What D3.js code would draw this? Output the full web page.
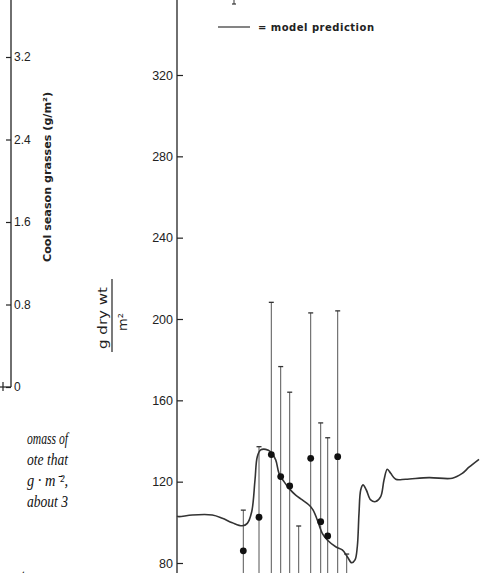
<!DOCTYPE html>
<html>
<head>
<meta charset="utf-8">
<script src="https://cdn.jsdelivr.net/npm/d3@7"></script>
<style>
  body { margin: 0; background: #fff; }
  svg { display: block; }
</style>
</head>
<body>
<div id="chart"></div>
<script>
// model curve (time in arbitrary day units, biomass g dry wt / m2)
var curveT = [0, 2, 15.3, 35.3, 45.3, 55.3, 65.3, 70.3, 74.7, 78, 80.3, 83.7, 88.7, 93.7, 98.7, 102, 107, 112,
              118.7, 125.3, 133.7, 137, 140.3, 145.3, 150.3, 158.7, 165.3, 170.3, 174.7, 178, 180.3, 182, 183.7,
              186, 189.3, 193.7, 198.7, 203.7, 207, 210.3, 213.7, 218.7, 228.7, 252, 275.3, 285.3, 292, 302];
var curveV = [103, 102.8, 103.6, 103.6, 102.0, 99.8, 98.3, 99.5, 105.2, 120.8, 132.3, 135.6, 135.9, 134.7, 130.7,
              124.1, 120.0, 116.7, 113.4, 111.0, 107.7, 105.2, 101.2, 94.6, 91.3, 88.0, 86.4, 83.1, 80.1, 81.5,
              88.0, 104.4, 115.9, 118.4, 115.9, 111.0, 110.2, 112.6, 120.8, 126.1, 124.1, 121.2, 121.2, 122.0,
              121.7, 124.1, 127.1, 131.0];

// observations with error bars
var obsT     = [66.3, 82, 94.3, 103.7, 112.7, 121.7, 133.7, 143.7, 150.7, 160.7, 169.7];
var obsMean  = [86, 102.5, 133.3, 122.5, 117.9, 72, 131.5, 100.3, 93.3, 132.3, 70];
var obsUpper = [106, 137.2, 208.2, 176.6, 164, 98.2, 203, 148.9, 141.6, 204, 84.4];
var obsLower = [66, 67.8, 58.4, 68.4, 71.8, 46, 60, 51.7, 45, 60.6, 56];

var rightTicks = [80, 120, 160, 200, 240, 280, 320];
var leftTicks = [0, 0.8, 1.6, 2.4, 3.2];

var captionLines = ["omass of", "ote   that", "g \u00b7 m\u207b\u00b2,", "about 3"];

var W = 481, H = 573;

var svg = d3.select("#chart").append("svg")
    .attr("width", W)
    .attr("height", H);

//////////// left (cut off) panel ////////////
var yLeft = d3.scaleLinear().domain([0, 3.2]).range([387, 57]);

svg.append("line")
    .attr("x1", 11).attr("x2", 11)
    .attr("y1", 0).attr("y2", yLeft(0))
    .attr("stroke", "#222").attr("stroke-width", 1.3);

svg.append("line")
    .attr("x1", 0).attr("x2", 11)
    .attr("y1", yLeft(0)).attr("y2", yLeft(0))
    .attr("stroke", "#222").attr("stroke-width", 1.2);
svg.append("line")
    .attr("x1", 3).attr("x2", 3)
    .attr("y1", yLeft(0) - 5).attr("y2", yLeft(0) + 4)
    .attr("stroke", "#222").attr("stroke-width", 1.2);

var leftAxis = d3.axisRight(yLeft)
    .tickValues(leftTicks)
    .tickSizeInner(-5)
    .tickSizeOuter(0)
    .tickPadding(3)
    .tickFormat(function(d){ return d === 0 ? "0" : d.toFixed(1); });

svg.append("g")
    .attr("transform", "translate(11,0)")
    .call(leftAxis)
    .call(function(g){ g.select(".domain").remove(); })
    .call(function(g){
        g.selectAll("line").attr("stroke", "#222").attr("stroke-width", 1.2);
        g.selectAll("text").attr("fill", "#222")
            .attr("font-family", "Liberation Sans, Arial, sans-serif")
            .attr("font-size", "12px");
    });

svg.append("text")
    .attr("transform", "translate(51,177) rotate(-90)")
    .attr("text-anchor", "middle")
    .attr("font-family", "DejaVu Sans, sans-serif")
    .attr("font-size", "10.5px")
    .attr("font-weight", "bold")
    .attr("fill", "#222")
    .attr("textLength", 170)
    .attr("lengthAdjust", "spacingAndGlyphs")
    .text("Cool season grasses (g/m\u00b2)");

// caption fragment
var caption = svg.append("g")
    .attr("font-family", "Liberation Serif, Times New Roman, serif")
    .attr("font-style", "italic")
    .attr("font-size", "16px")
    .attr("fill", "#111");

caption.selectAll("text")
    .data(captionLines)
    .enter()
    .append("text")
    .attr("x", 27)
    .attr("y", function(d, i){ return 444 + i * 21; })
    .attr("textLength", 41)
    .attr("lengthAdjust", "spacingAndGlyphs")
    .text(function(d){ return d; });

svg.append("text")
    .attr("x", 0).attr("y", 580)
    .attr("font-family", "Liberation Serif, serif")
    .attr("font-size", "15px")
    .attr("fill", "#222")
    .attr("textLength", 55)
    .attr("lengthAdjust", "spacingAndGlyphs")
    .text("eratures");

//////////// right panel ////////////
var x = d3.scaleLinear().domain([0, 303]).range([177, 480]);
var y = d3.scaleLinear().domain([80, 320]).range([563, 75]);

svg.append("line")
    .attr("x1", 177).attr("x2", 177)
    .attr("y1", 0).attr("y2", H)
    .attr("stroke", "#222").attr("stroke-width", 1.3);

var rightAxis = d3.axisLeft(y)
    .tickValues(rightTicks)
    .tickSizeInner(-6)
    .tickSizeOuter(0)
    .tickPadding(4)
    .tickFormat(d3.format("d"));

svg.append("g")
    .attr("transform", "translate(177,0)")
    .call(rightAxis)
    .call(function(g){ g.select(".domain").remove(); })
    .call(function(g){
        g.selectAll("line").attr("stroke", "#222").attr("stroke-width", 1.2);
        g.selectAll("text").attr("fill", "#222")
            .attr("font-family", "Liberation Sans, Arial, sans-serif")
            .attr("font-size", "12.5px");
    });

// y label as a fraction
var ylab = svg.append("g")
    .attr("font-family", "DejaVu Sans, sans-serif")
    .attr("fill", "#222");

ylab.append("text")
    .attr("transform", "translate(107,318) rotate(-90)")
    .attr("text-anchor", "middle")
    .attr("font-size", "13px")
    .attr("textLength", 62)
    .attr("lengthAdjust", "spacingAndGlyphs")
    .text("g dry wt");

ylab.append("line")
    .attr("x1", 112).attr("x2", 112)
    .attr("y1", 279).attr("y2", 352)
    .attr("stroke", "#222").attr("stroke-width", 1.2);

ylab.append("text")
    .attr("transform", "translate(127,322) rotate(-90)")
    .attr("text-anchor", "middle")
    .attr("font-size", "13px")
    .text("m\u00b2");

// legend
var legend = svg.append("g").attr("class", "legend");

legend.append("line")
    .attr("x1", 234).attr("x2", 234)
    .attr("y1", -4).attr("y2", 4)
    .attr("stroke", "#333").attr("stroke-width", 1);
legend.append("line")
    .attr("x1", 232).attr("x2", 236)
    .attr("y1", 4).attr("y2", 4)
    .attr("stroke", "#333").attr("stroke-width", 1.2);

legend.append("line")
    .attr("x1", 218).attr("x2", 250)
    .attr("y1", 27).attr("y2", 27)
    .attr("stroke", "#333").attr("stroke-width", 1.2);

legend.append("text")
    .attr("x", 258).attr("y", 31)
    .attr("font-family", "DejaVu Sans, sans-serif")
    .attr("font-size", "10px")
    .attr("font-weight", "bold")
    .attr("fill", "#222")
    .attr("textLength", 116)
    .attr("lengthAdjust", "spacing")
    .text("= model  prediction");

// error bars
var obs = obsT.map(function(t, i){
    return { t: t, m: obsMean[i], hi: obsUpper[i], lo: obsLower[i] };
});

var bars = svg.append("g").attr("class", "errbars");

bars.selectAll("line.bar")
    .data(obs)
    .enter()
    .append("line")
    .attr("class", "bar")
    .attr("x1", function(d){ return x(d.t); })
    .attr("x2", function(d){ return x(d.t); })
    .attr("y1", function(d){ return y(d.hi); })
    .attr("y2", function(d){ return y(d.lo); })
    .attr("stroke", "#555")
    .attr("stroke-width", 1);

bars.selectAll("line.cap")
    .data(obs)
    .enter()
    .append("line")
    .attr("class", "cap")
    .attr("x1", function(d){ return x(d.t) - 2.5; })
    .attr("x2", function(d){ return x(d.t) + 2.5; })
    .attr("y1", function(d){ return y(d.hi); })
    .attr("y2", function(d){ return y(d.hi); })
    .attr("stroke", "#333")
    .attr("stroke-width", 1.3);

// model curve
var curve = curveT.map(function(t, i){ return { t: t, v: curveV[i] }; });

var line = d3.line()
    .x(function(d){ return x(d.t); })
    .y(function(d){ return y(d.v); })
    .curve(d3.curveCatmullRom.alpha(0.5));

svg.append("path")
    .datum(curve)
    .attr("d", line)
    .attr("fill", "none")
    .attr("stroke", "#333")
    .attr("stroke-width", 1.6);

// observed means
svg.append("g")
    .selectAll("circle")
    .data(obs)
    .enter()
    .append("circle")
    .attr("cx", function(d){ return x(d.t); })
    .attr("cy", function(d){ return y(d.m); })
    .attr("r", 3.4)
    .attr("fill", "#111");
</script>
</body>
</html>
